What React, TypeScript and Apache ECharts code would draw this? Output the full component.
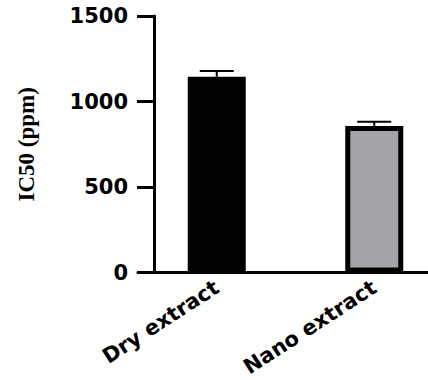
import React, { useEffect, useRef } from "react";
import * as echarts from "echarts";

const categories = ["Dry extract", "Nano extract"];
const values = [1145, 857];
const errors = [33, 25];
const barColors = ["#000000", "#a4a3a8"];
const yTicks = { min: 0, max: 1500, interval: 500 };

export default function App() {
  const ref = useRef<HTMLDivElement>(null);
  useEffect(() => {
    if (!ref.current) return;
    const chart = echarts.init(ref.current, null, { renderer: "svg" });
    const font = "DejaVu Sans";
    chart.setOption({
      animation: false,
      backgroundColor: "#ffffff",
      grid: {
        left: 138,
        width: 315,
        top: 16,
        height: 256.5,
        containLabel: false,
        outerBoundsMode: "none",
      },
      xAxis: {
        type: "category",
        data: categories,
        boundaryGap: true,
        z: 5,
        axisLine: { lineStyle: { color: "#000", width: 3 } },
        axisTick: { alignWithLabel: true, length: 11, lineStyle: { color: "#000", width: 3 } },
        axisLabel: {
          rotate: 33,
          margin: 13,
          color: "#000",
          fontFamily: font,
          fontWeight: "bold",
          fontSize: 21,
        },
      },
      yAxis: {
        type: "value",
        min: yTicks.min,
        max: yTicks.max,
        interval: yTicks.interval,
        offset: -16,
        z: 5,
        splitLine: { show: false },
        axisLine: { show: true, lineStyle: { color: "#000", width: 3 } },
        axisTick: { show: true, length: 17, lineStyle: { color: "#000", width: 3 } },
        axisLabel: {
          margin: 26,
          color: "#000",
          fontFamily: font,
          fontWeight: "bold",
          fontSize: 21,
          formatter: (v: number) => String(v),
        },
        name: "IC50 (ppm)",
        nameLocation: "middle",
        nameRotate: 90,
        nameGap: 116,
        nameTextStyle: {
          color: "#000",
          fontFamily: "Liberation Serif",
          fontWeight: "bold",
          fontSize: 23,
        },
      },
      series: [
        {
          type: "bar",
          barWidth: 58,
          data: values.map((v, i) => ({
            value: v,
            itemStyle: { color: barColors[i], borderColor: "#000", borderWidth: 5 },
          })),
          z: 2,
        },
        {
          type: "custom",
          z: 3,
          data: values.map((v, i) => [i, v, v + errors[i]]),
          renderItem: (params: any, api: any) => {
            const x = api.value(0);
            const base = api.coord([x, api.value(1)]);
            const top = api.coord([x, api.value(2)]);
            const hw = 17;
            return {
              type: "group",
              children: [
                {
                  type: "line",
                  shape: { x1: base[0], y1: base[1], x2: top[0], y2: top[1] },
                  style: { stroke: "#000", lineWidth: 2 },
                },
                {
                  type: "line",
                  shape: { x1: top[0] - hw, y1: top[1], x2: top[0] + hw, y2: top[1] },
                  style: { stroke: "#000", lineWidth: 2 },
                },
              ],
            };
          },
        },
      ],
    });
    return () => chart.dispose();
  }, []);
  return (
    <div
      ref={ref}
      style={{ position: "absolute", left: 0, top: 0, width: 428, height: 380 }}
    />
  );
}
